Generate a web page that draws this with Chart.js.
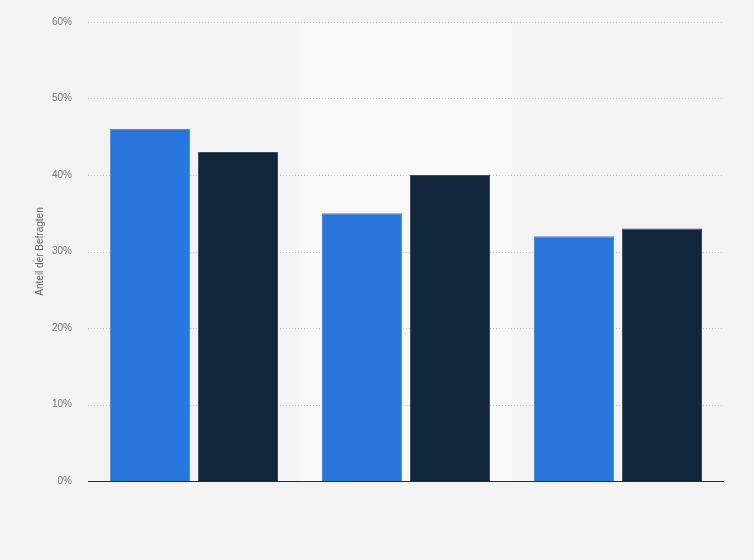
<!DOCTYPE html>
<html>
<head>
<meta charset="utf-8">
<script src="https://cdn.jsdelivr.net/npm/chart.js@4/dist/chart.umd.min.js"></script>
<style>
html,body{margin:0;padding:0;background:#f3f3f3;}
#wrap{width:754px;height:560px;}
</style>
</head>
<body>
<div id="wrap"><canvas id="c" width="754" height="560"></canvas></div>
<script>
const categories = ['Gruppe 1', 'Gruppe 2', 'Gruppe 3'];
const seriesNames = ['Serie 1', 'Serie 2'];
const series1 = [46, 35, 32];
const series2 = [43, 40, 33];
const yTicks = [0, 10, 20, 30, 40, 50, 60];
const yTitle = 'Anteil der Befragten';

const bandPlugin = {
  id: 'band',
  beforeDatasetsDraw(chart) {
    const x = chart.scales.x, area = chart.chartArea, ctx = chart.ctx;
    const w = (x.getPixelForValue(1) - x.getPixelForValue(0));
    ctx.save();
    ctx.fillStyle = '#f9f9f9';
    const cx = x.getPixelForValue(1);
    ctx.fillRect(cx - w / 2, area.top, w, area.bottom - area.top);
    ctx.restore();
  }
};
const bgPlugin = {
  id: 'bg',
  beforeDraw(chart) {
    const ctx = chart.ctx;
    ctx.save();
    ctx.fillStyle = '#f3f3f3';
    ctx.fillRect(0, 0, chart.width, chart.height);
    ctx.restore();
  }
};
const gridPlugin = {
  id: 'gridTop',
  beforeDatasetsDraw(chart) {
    const y = chart.scales.y, area = chart.chartArea, ctx = chart.ctx;
    ctx.save();
    ctx.strokeStyle = '#c8c8c8';
    ctx.lineWidth = 1;
    ctx.setLineDash([1, 2]);
    yTicks.forEach(v => {
      if (v === 0) return;
      const py = Math.round(y.getPixelForValue(v)) + 0.5;
      ctx.beginPath();
      ctx.moveTo(area.left, py);
      ctx.lineTo(area.right, py);
      ctx.stroke();
    });
    ctx.restore();
  },
  afterDatasetsDraw(chart) {
    const y = chart.scales.y, area = chart.chartArea, ctx = chart.ctx;
    ctx.save();
    ctx.strokeStyle = '#2b2b2b';
    ctx.lineWidth = 1;
    const py = Math.round(y.getPixelForValue(0)) + 0.5;
    ctx.beginPath();
    ctx.moveTo(area.left, py);
    ctx.lineTo(area.right, py);
    ctx.stroke();
    ctx.restore();
  }
};

new Chart(document.getElementById('c'), {
  type: 'bar',
  data: {
    labels: categories,
    datasets: [
      { label: seriesNames[0], data: series1, backgroundColor: '#2876dd', borderColor: '#4d8fe4', borderWidth: 1, categoryPercentage: 0.83, barPercentage: 0.91 },
      { label: seriesNames[1], data: series2, backgroundColor: '#10263d', borderColor: '#3c4b5b', borderWidth: 1, categoryPercentage: 0.83, barPercentage: 0.91 }
    ]
  },
  plugins: [bgPlugin, bandPlugin, gridPlugin],
  options: {
    responsive: false,
    animation: false,
    layout: { padding: { left: 30, right: 30, top: 18, bottom: 79 } },
    plugins: { legend: { display: false }, tooltip: { enabled: false } },
    scales: {
      x: {
        grid: { display: false },
        border: { display: false },
        ticks: { display: false },
        afterFit(s) { s.height = 0; }
      },
      y: {
        min: 0, max: 60,
        afterBuildTicks(s) { s.ticks = yTicks.map(v => ({ value: v })); },
        grid: { display: false, drawTicks: false },
        border: { display: false },
        ticks: {
          padding: 16,
          color: '#777',
          font: { family: 'Liberation Sans, Arial, sans-serif', size: 10 },
          callback: v => v + '%'
        },
        title: {
          display: true,
          text: yTitle,
          color: '#666',
          padding: { top: 4, bottom: 0 },
          font: { family: 'Liberation Sans, Arial, sans-serif', size: 10 }
        },
        afterFit(s) { s.width = 58; }
      }
    }
  }
});
</script>
</body>
</html>
